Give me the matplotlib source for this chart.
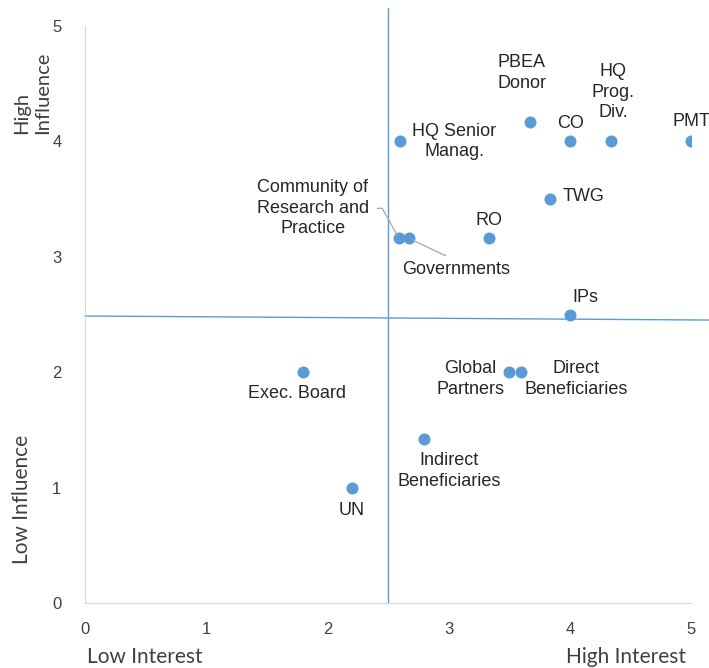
import matplotlib.pyplot as plt

# Stakeholder data: interest (x), influence (y)
names = ['PMT', 'HQ\nProg.\nDiv.', 'CO', 'PBEA\nDonor', 'HQ Senior\nManag.', 'TWG', 'RO',
         'Community of\nResearch and\nPractice', 'Governments', 'IPs', 'Global\nPartners',
         'Direct\nBeneficiaries', 'Exec. Board', 'Indirect\nBeneficiaries', 'UN']
interest = [5.0, 4.34, 4.0, 3.67, 2.6, 3.84, 3.33, 2.59, 2.67, 4.0, 3.5, 3.6, 1.8, 2.8, 2.2]
influence = [4.0, 4.0, 4.0, 4.17, 4.0, 3.5, 3.16, 3.16, 3.16, 2.5, 2.0, 2.0, 2.0, 1.42, 1.0]

# label offsets in pixels (text centre relative to point)
offsets = [(0, 20), (2, 49), (1, 18), (-8, 49), (54, 0), (33, 3), (0, 18), (-86, 30),
           (48, -31), (16, 17), (-39, -7), (55, -7), (-6, -21), (25, -32), (0, -23)]
leaders = {7: ((1, 0.5), 'angle,angleA=0,angleB=119,rad=0'),
           8: ((0.5, 1), 'arc3')}

blue = '#5B9BD5'
text_col = '#262626'

fig = plt.figure(figsize=(7.09, 6.68), dpi=100)
ax = fig.add_axes([85 / 709, 65 / 668, 606 / 709, 577 / 668])

ax.scatter(interest, influence, s=75, color=blue, zorder=3, linewidths=0)

for i, (name, x, y) in enumerate(zip(names, interest, influence)):
    kw = dict(textcoords='offset pixels', ha='center', va='center', fontsize=13,
              color=text_col, linespacing=1.27, family='Liberation Sans')
    if i in leaders:
        rel, conn = leaders[i]
        kw['arrowprops'] = dict(arrowstyle='-', color='#A6A6A6', lw=0.9, relpos=rel,
                                connectionstyle=conn, shrinkA=4, shrinkB=3)
    ax.annotate(name, (x, y), xytext=offsets[i], **kw)

# quadrant lines
ax.plot([2.5, 2.5], [0, 5.16], color=blue, lw=1, clip_on=False, zorder=1)
ax.plot([0, 5.15], [2.487, 2.452], color=blue, lw=1, clip_on=False, zorder=1)

ax.set_xlim(0, 5)
ax.set_ylim(0, 5)
ax.set_xticks(range(6))
ax.set_yticks(range(6))
ax.tick_params(length=0, labelsize=12, labelcolor='#404040', pad=17)
ax.tick_params(axis='x', pad=14)
for lab in ax.get_xticklabels() + ax.get_yticklabels():
    lab.set_family('Liberation Sans')
for s in ['top', 'right']:
    ax.spines[s].set_visible(False)
for s in ['left', 'bottom']:
    ax.spines[s].set_color('#D9D9D9')

# axis end labels
fig.text(32 / 709, 1 - 93 / 668, 'High\nInfluence', rotation=90, ha='center', va='center',
         multialignment='left', fontsize=14.5, color='#404040', family='Lato',
         linespacing=1.3)
fig.text(22 / 709, 1 - 499 / 668, 'Low Influence', rotation=90, ha='center', va='center',
         fontsize=15, color='#404040', family='Lato')
fig.text(145 / 709, 1 - 657 / 668, 'Low Interest', ha='center', va='center',
         fontsize=15, color='#404040', family='Lato')
fig.text(626 / 709, 1 - 657 / 668, 'High Interest', ha='center', va='center',
         fontsize=15, color='#404040', family='Lato')

fig.savefig('out.png', dpi=100)
